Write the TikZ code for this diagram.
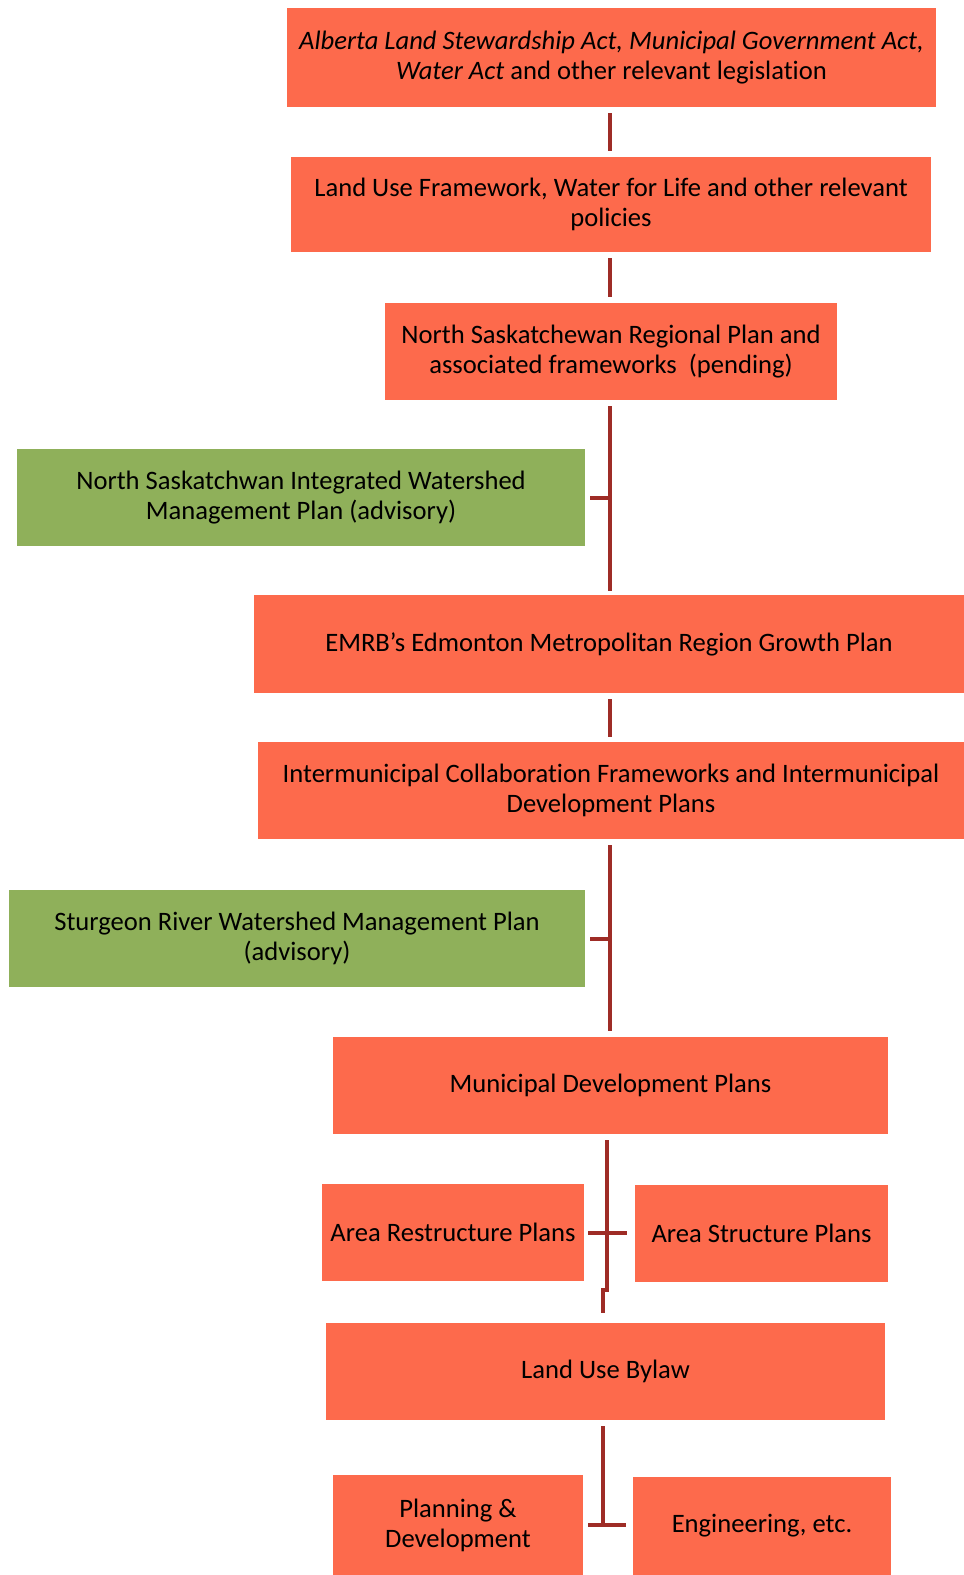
\documentclass[tikz,border=0pt]{standalone}
\usepackage{fontspec}
\setmainfont[Ligatures=NoCommon]{Carlito}
\definecolor{boxorange}{RGB}{253,106,76}
\definecolor{boxgreen}{RGB}{143,176,90}
\definecolor{connred}{RGB}{158,44,38}
\begin{document}
\begin{tikzpicture}[x=0.5pt,y=-0.5pt,
  obox/.style={fill=boxorange,draw=none,inner sep=0pt,align=center,font=\fontsize{13.3}{15}\selectfont},
  gbox/.style={obox,fill=boxgreen},
  conn/.style={draw=connred,line width=2pt}]
\fill[white] (0,0) rectangle (964,1575);
\useasboundingbox (0,0) rectangle (964,1575);
\node[obox,minimum width=324.5pt,minimum height=49.5pt] (b1) at (611.5,57.5)
  {\itshape Alberta Land Stewardship Act, Municipal Government Act,\\ {\itshape Water Act}\upshape{} and other relevant legislation};
\node[obox,minimum width=320pt,minimum height=47.5pt] (b2) at (611,204.5)
  {Land Use Framework, Water for Life and other relevant\\policies};
\node[obox,minimum width=226pt,minimum height=48.5pt] (b3) at (611,351.5)
  {North Saskatchewan Regional Plan and\\associated frameworks\ \ (pending)};
\node[gbox,minimum width=284pt,minimum height=48.5pt] (g1) at (301,497.5)
  {North Saskatchwan Integrated Watershed\\Management Plan (advisory)};
\node[obox,minimum width=355pt,minimum height=49pt] (b4) at (609,644)
  {EMRB's Edmonton Metropolitan Region Growth Plan};
\node[obox,minimum width=353pt,minimum height=48.5pt] (b5) at (611,790.5)
  {Intermunicipal Collaboration Frameworks and Intermunicipal\\Development Plans};
\node[gbox,minimum width=288pt,minimum height=48.5pt] (g2) at (297,938.5)
  {Sturgeon River Watershed Management Plan\\(advisory)};
\node[obox,minimum width=277.5pt,minimum height=48.5pt] (b6) at (610.5,1085.5)
  {Municipal Development Plans};
\node[obox,minimum width=131pt,minimum height=48.5pt] (arp) at (453,1232.5)
  {Area Restructure Plans};
\node[obox,minimum width=126.5pt,minimum height=48.5pt] (asp) at (761.5,1233.5)
  {Area Structure Plans};
\node[obox,minimum width=279.5pt,minimum height=48.5pt] (lub) at (605.5,1371.5)
  {Land Use Bylaw};
\node[obox,minimum width=125pt,minimum height=50pt] (pd) at (458,1525)
  {Planning \&\\Development};
\node[obox,minimum width=129pt,minimum height=49pt] (eng) at (762,1526)
  {Engineering, etc.};
% trunk x positions
\coordinate (xa) at (610,0);
\coordinate (xb) at (607,0);
\coordinate (xc) at (603,0);
% connectors
\draw[conn] ([yshift=-3pt]b1.south -| xa) -- ([yshift=3pt]b2.north -| xa);
\draw[conn] ([yshift=-3pt]b2.south -| xa) -- ([yshift=3pt]b3.north -| xa);
\draw[conn] ([yshift=-3pt]b3.south -| xa) -- ([yshift=2pt]b4.north -| xa);
\draw[conn] ([xshift=2.5pt]g1.east) -- (g1.east -| xa);
\draw[conn] ([yshift=-3pt]b4.south -| xa) -- ([yshift=2.5pt]b5.north -| xa);
\draw[conn] ([yshift=-3pt]b5.south -| xa) -- ([yshift=3pt]b6.north -| xa);
\draw[conn] ([xshift=2.5pt]g2.east) -- (g2.east -| xa);
\coordinate (jog) at (607,1290);
\draw[conn] ([yshift=-3pt]b6.south -| xb) -- (jog) -- (jog -| xc) -- ([yshift=5pt]lub.north -| xc);
\draw[conn] ([xshift=2pt]arp.east) -- ([xshift=-4pt]asp.west |- arp.east);
\draw[conn] ([yshift=-3pt]lub.south -| xc) coordinate (lb) -- (lb |- pd.east);
\draw[conn] ([xshift=2.5pt]pd.east) -- ([xshift=-3.5pt]eng.west |- pd.east);
\end{tikzpicture}
\end{document}
